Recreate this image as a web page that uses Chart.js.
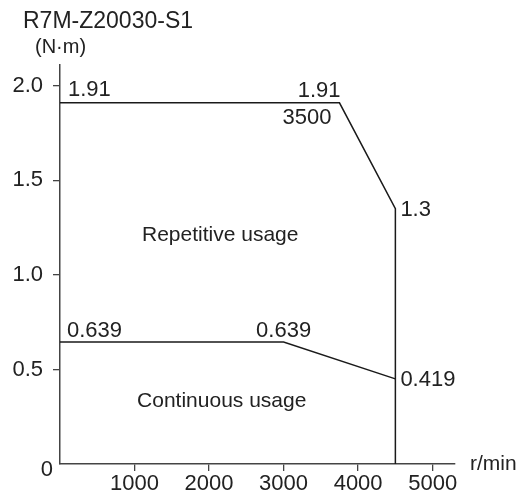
<!DOCTYPE html>
<html>
<head>
<meta charset="utf-8">
<script src="https://cdn.jsdelivr.net/npm/chart.js@4.4.0/dist/chart.umd.min.js"></script>
<style>
    html, body { margin: 0; padding: 0; background: #fff; }
</style>
</head>
<body>
<canvas id="torqueChart" width="524" height="496"></canvas>
<script>
// Axis ticks
const speedTicks = [1000, 2000, 3000, 4000, 5000];
const torqueTicks = [0.5, 1.0, 1.5, 2.0];

// Torque curves (r/min, N·m)
const repetitiveSpeed = [0, 3750, 4500, 4500];
const repetitiveTorque = [1.91, 1.91, 1.35, 0];
const continuousSpeed = [0, 3000, 4500];
const continuousTorque = [0.645, 0.645, 0.45];

// Annotations anchored on the curves
const noteTexts = ['1.91', '1.91', '3500', '1.3', '0.639', '0.639', '0.419', 'Repetitive usage', 'Continuous usage'];
const noteSpeed = [0, 3750, 3750, 4500, 0, 3000, 4500, 2150, 2170];
const noteTorque = [1.91, 1.91, 1.91, 1.35, 0.645, 0.645, 0.45, 1.21, 0.33];

const FONT = '"Liberation Sans", Arial, sans-serif';
const INK = '#222';

document.addEventListener('DOMContentLoaded', function () {
    const ctx = document.getElementById('torqueChart').getContext('2d');

    const toPoints = (xs, ys) => xs.map((x, i) => ({ x: x, y: ys[i] }));

    // how each note sits relative to its anchor
    const noteStyle = [
        { align: 'left', base: 'alphabetic', dx: 8, dy: -7, size: 22 },
        { align: 'right', base: 'alphabetic', dx: 1, dy: -6, size: 22 },
        { align: 'right', base: 'alphabetic', dx: -8, dy: 21, size: 22 },
        { align: 'left', base: 'middle', dx: 5, dy: 1, size: 22 },
        { align: 'left', base: 'alphabetic', dx: 7, dy: -5, size: 22 },
        { align: 'center', base: 'alphabetic', dx: 0, dy: -5, size: 22 },
        { align: 'left', base: 'middle', dx: 5, dy: 1, size: 22 },
        { align: 'center', base: 'middle', dx: 0, dy: 0, size: 21 },
        { align: 'center', base: 'middle', dx: 0, dy: 0, size: 21 }
    ];

    const notesPlugin = {
        id: 'notes',
        afterDraw(chart) {
            const c = chart.ctx;
            const xs = chart.scales.x;
            const ys = chart.scales.y;
            const area = chart.chartArea;
            c.save();
            c.fillStyle = INK;
            noteTexts.forEach((t, i) => {
                const st = noteStyle[i];
                c.font = st.size + 'px ' + FONT;
                c.textAlign = st.align;
                c.textBaseline = st.base;
                c.fillText(t, xs.getPixelForValue(noteSpeed[i]) + st.dx, ys.getPixelForValue(noteTorque[i]) + st.dy);
            });

            // origin label and x unit
            c.font = '22px ' + FONT;
            c.textAlign = 'right';
            c.textBaseline = 'middle';
            c.fillText('0', 53, area.bottom + 6);
            c.font = '21px ' + FONT;
            c.textAlign = 'left';
            c.fillText('r/min', area.right + 15, area.bottom);

            // model name and y unit
            c.textBaseline = 'alphabetic';
            c.font = '23px ' + FONT;
            c.fillText('R7M-Z20030-S1', 23, 28);
            c.font = '20px ' + FONT;
            c.fillText('(N·m)', 35, 53);
            c.restore();
        }
    };

    new Chart(ctx, {
        type: 'scatter',
        data: {
            datasets: [{
                label: 'Repetitive usage',
                data: toPoints(repetitiveSpeed, repetitiveTorque),
                showLine: true,
                borderColor: '#1a1a1a',
                borderWidth: 1.5,
                pointRadius: 0,
                tension: 0,
                fill: false
            }, {
                label: 'Continuous usage',
                data: toPoints(continuousSpeed, continuousTorque),
                showLine: true,
                borderColor: '#1a1a1a',
                borderWidth: 1.5,
                pointRadius: 0,
                tension: 0,
                fill: false
            }]
        },
        options: {
            responsive: false,
            devicePixelRatio: 1,
            animation: false,
            layout: {
                padding: { top: 65, right: 69, left: 0, bottom: 0 }
            },
            plugins: {
                legend: { display: false },
                tooltip: { enabled: false }
            },
            scales: {
                x: {
                    type: 'linear',
                    min: 0,
                    max: 5300,
                    afterBuildTicks: s => { s.ticks = speedTicks.map(v => ({ value: v })); },
                    afterFit: s => { s.height = 32; },
                    grid: { drawOnChartArea: false, tickLength: 7, color: '#444', lineWidth: 1.3 },
                    border: { color: '#444', width: 1.5 },
                    ticks: {
                        font: { family: FONT, size: 22 },
                        color: INK,
                        padding: 0,
                        maxRotation: 0,
                        autoSkip: false,
                        callback: v => String(v)
                    }
                },
                y: {
                    min: 0,
                    max: 2.11,
                    afterBuildTicks: s => { s.ticks = torqueTicks.map(v => ({ value: v })); },
                    afterFit: s => { s.width = 60; },
                    grid: { drawOnChartArea: false, tickLength: 7, color: '#444', lineWidth: 1.3 },
                    border: { color: '#444', width: 1.5 },
                    ticks: {
                        font: { family: FONT, size: 22 },
                        color: INK,
                        padding: 10,
                        callback: v => v.toFixed(1)
                    }
                }
            }
        },
        plugins: [notesPlugin]
    });
});
</script>
</body>
</html>
